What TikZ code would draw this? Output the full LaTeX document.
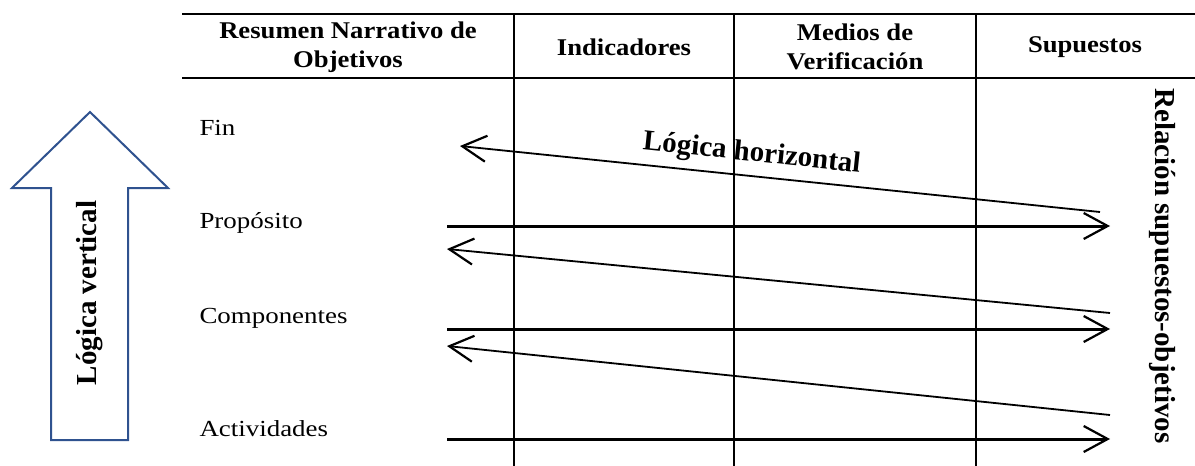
\documentclass[tikz,border=0pt]{standalone}
\usepackage{fontspec}
\setmainfont{Liberation Serif}
\newfontfamily\wideserif[FakeStretch=1.17]{Liberation Serif}
\newfontfamily\hdrserif[FakeStretch=1.11]{Liberation Serif}
\usetikzlibrary{arrows.meta}
\definecolor{arrowblue}{HTML}{2F528F}
\begin{document}
\begin{tikzpicture}[x=1pt,y=-1pt,
  rule/.style={line width=2pt},
  colrule/.style={line width=1.5pt},
  hdr/.style={font=\hdrserif\fontsize{24}{29}\selectfont\bfseries, align=center},
  rowlbl/.style={font=\wideserif\fontsize{23}{26}\selectfont, anchor=base west},
  biglbl/.style={font=\fontsize{29}{32}\selectfont\bfseries},
  harrow/.style={line width=3pt, -{Straight Barb[length=24pt,width=26pt,line width=2.2pt]}},
  darrow/.style={line width=1.8pt, -{Straight Barb[length=24pt,width=26pt,line width=2.2pt]}},
  bigarrow/.style={draw=arrowblue, line width=2pt, fill=white}]
\useasboundingbox (0,0) rectangle (1195,466);
% table rules
\coordinate (tl) at (182,14);
\coordinate (tr) at (1195,14);
\coordinate (hl) at (182,78);
\coordinate (hr) at (1195,78);
\draw[rule] (tl) -- (tr);
\draw[rule] (hl) -- (hr);
\coordinate (c1t) at (514,14); \coordinate (c1b) at (514,466);
\coordinate (c2t) at (734,14); \coordinate (c2b) at (734,466);
\coordinate (c3t) at (976,14); \coordinate (c3b) at (976,466);
\draw[colrule] (c1t) -- (c1b);
\draw[colrule] (c2t) -- (c2b);
\draw[colrule] (c3t) -- (c3b);
% headers
\node[hdr] (h1) at (348,47) {Resumen Narrativo de\\Objetivos};
\node[hdr] (h2) at (624,47) {Indicadores};
\node[hdr] (h3) at (855,47) {Medios de\\Verificación};
\node[hdr] (h4) at (1085,47) {Supuestos};
% row labels
\node[rowlbl] (fin) at (196,135) {Fin};
\node[rowlbl] (prop) at (196,228) {Propósito};
\node[rowlbl] (comp) at (196,323) {Componentes};
\node[rowlbl] (act) at (196,436) {Actividades};
% arrows
\coordinate (d1s) at (1100,212); \coordinate (d1e) at (460,146);
\coordinate (h1s) at (447,226); \coordinate (h1e) at (1110,226);
\coordinate (d2s) at (1110,313); \coordinate (d2e) at (447,249);
\coordinate (h2s) at (447,329); \coordinate (h2e) at (1110,329);
\coordinate (d3s) at (1110,415); \coordinate (d3e) at (447,346);
\coordinate (h3s) at (447,439); \coordinate (h3e) at (1110,439);
\draw[darrow] (d1s) -- (d1e);
\draw[harrow] (h1s) -- (h1e);
\draw[darrow] (d2s) -- (d2e);
\draw[harrow] (h2s) -- (h2e);
\draw[darrow] (d3s) -- (d3e);
\draw[harrow] (h3s) -- (h3e);
\node[biglbl, rotate=-6, anchor=base] (lh) at (751,161) {Lógica horizontal};
% vertical logic arrow
\draw[bigarrow] (90,112) -- (168,188) -- (128,188) -- (128,440) -- (51,440) -- (51,188) -- (12,188) -- cycle;
\node[biglbl, rotate=90] (lv) at (90,293) {Lógica vertical};
\node[biglbl, rotate=-90] (rs) at (1162,266) {Relación supuestos-objetivos};
\end{tikzpicture}
\end{document}
